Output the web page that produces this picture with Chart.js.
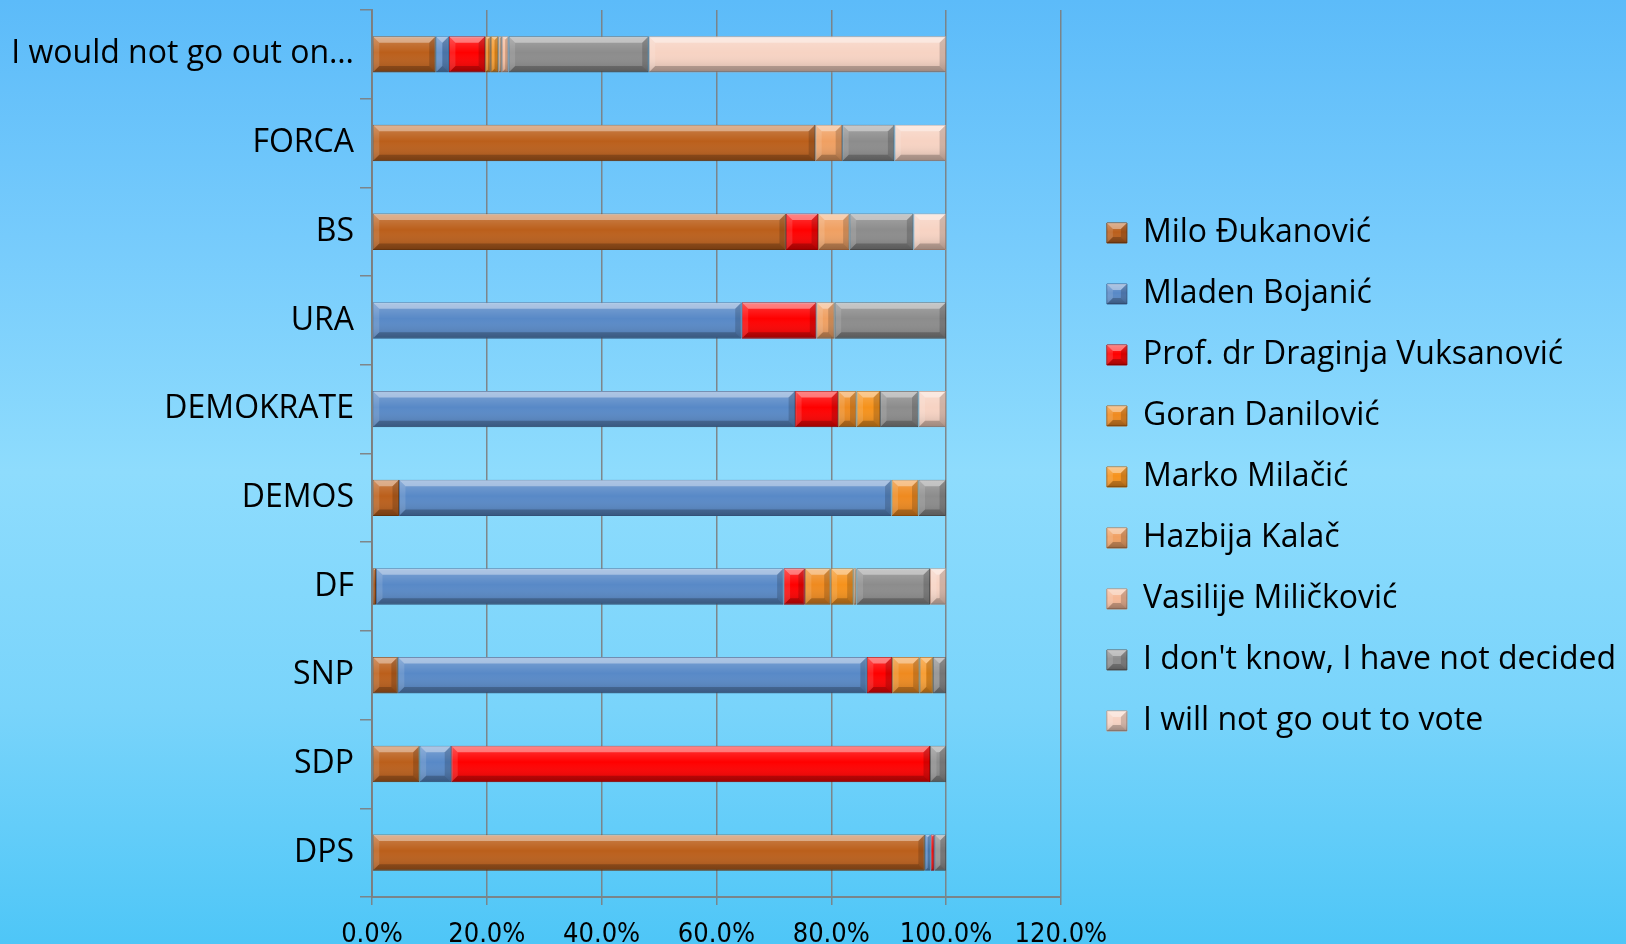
<!DOCTYPE html>
<html><head><meta charset="utf-8">
<script src="https://cdn.jsdelivr.net/npm/chart.js@4.4.1/dist/chart.umd.min.js"></script>
<style>
html,body{margin:0;padding:0;}
body{width:1626px;height:944px;overflow:hidden;background:linear-gradient(to bottom,#5cbbf9 0%,#76cbfc 25%,#8edcfd 50%,#79d4fb 75%,#4ec6f7 100%);}
#wrap{position:relative;width:1626px;height:944px;}
</style></head><body><div id="wrap"><canvas id="c"></canvas></div>
<script>
// Categories (top to bottom)
const categories = ["I would not go out on…","FORCA","BS","URA","DEMOKRATE","DEMOS","DF","SNP","SDP","DPS"];
// Series values (percent)
const miloDjukanovic      = [11.1, 77.2, 72.1, null, null, 4.7, 0.7, 4.5, 8.3, 96.3];
const mladenBojanic       = [2.3, null, null, 64.4, 73.7, 85.8, 71.0, 81.7, 5.5, 1.0];
const draginjaVuksanovic  = [6.3, null, 5.6, 13.0, 7.5, null, 3.7, 4.4, 83.4, 0.7];
const goranDanilovic      = [1.0, null, null, null, 3.2, 4.7, 4.5, 4.8, null, null];
const markoMilacic        = [1.3, null, null, null, 4.1, null, 4.0, 2.3, null, null];
const hazbijaKalac        = [0.6, 4.7, 5.5, 3.2, null, null, 0.5, null, null, null];
const vasilijeMilickovic  = [1.2, null, null, null, null, null, null, null, null, null];
const dontKnow            = [24.4, 9.1, 11.1, 19.4, 6.7, 4.8, 12.8, 2.3, 2.8, 2.0];
const notVote             = [51.8, 9.0, 5.7, null, 4.8, null, 2.8, null, null, null];
const seriesNames = ["Milo Đukanović","Mladen Bojanić","Prof. dr Draginja Vuksanović","Goran Danilović","Marko Milačić","Hazbija Kalač","Vasilije Miličković","I don't know, I have not decided","I will not go out to vote"];
const tickLabels = [0, 20, 40, 60, 80, 100, 120];

const seriesData = [miloDjukanovic, mladenBojanic, draginjaVuksanovic, goranDanilovic, markoMilacic, hazbijaKalac, vasilijeMilickovic, dontKnow, notVote];
const fills   = ['#bb5f1b','#5889c7','#ff0000','#ef8a1f','#f6921b','#f0a062','#f5b896','#8c8c8c','#f7d3c3'];
const borders = ['#7a3f12','#3f6596','#b00000','#a85d12','#b06510','#b06e40','#b88468','#5a5a5a','#b89484'];

Chart.defaults.font.family = "'Open Sans', sans-serif";
Chart.defaults.color = '#000';

const LEGEND_GAP = 17;

function bevel(ctx, l, t, w, h) {
  if (w < 1 || h < 1) return;
  const r = l + w, b = t + h;
  const e = Math.min(6, w / 2, h / 2);
  ctx.save();
  const g = ctx.createLinearGradient(0, t, 0, b);
  g.addColorStop(0, 'rgba(255,255,255,0.22)');
  g.addColorStop(0.45, 'rgba(255,255,255,0.0)');
  g.addColorStop(1, 'rgba(0,0,0,0.18)');
  ctx.fillStyle = g; ctx.fillRect(l, t, w, h);
  const poly = (pts, c) => { ctx.beginPath(); ctx.moveTo(pts[0][0], pts[0][1]); for (let i = 1; i < pts.length; i++) ctx.lineTo(pts[i][0], pts[i][1]); ctx.closePath(); ctx.fillStyle = c; ctx.fill(); };
  poly([[l,t],[r,t],[r-e,t+e],[l+e,t+e]], 'rgba(255,255,255,0.38)');
  poly([[l,b],[r,b],[r-e,b-e],[l+e,b-e]], 'rgba(0,0,0,0.22)');
  poly([[l,t],[l+e,t+e],[l+e,b-e],[l,b]], 'rgba(255,255,255,0.12)');
  poly([[r,t],[r-e,t+e],[r-e,b-e],[r,b]], 'rgba(0,0,0,0.16)');
  ctx.restore();
}

const bevelPlugin = {
  id: 'bevel',
  afterInit(chart) {
    // let the right-hand legend take its natural width, plus a gap to the plot
    const lg = chart.legend;
    if (lg && !lg._wide) {
      const orig = lg.update.bind(lg);
      lg.update = (maxWidth, maxHeight, margins) => {
        orig(Math.max(maxWidth, 640), maxHeight, margins);
        lg.width += LEGEND_GAP;
      };
      lg._wide = true;
    }
  },
  afterLayout(chart) {
    const lg = chart.legend;
    if (lg) { lg.left += LEGEND_GAP; }
  },
  afterDatasetsDraw(chart) {
    const ctx = chart.ctx;
    chart.data.datasets.forEach((ds, i) => {
      const meta = chart.getDatasetMeta(i);
      if (meta.hidden) return;
      meta.data.forEach(el => {
        const p = el.getProps(['x','y','base','height'], true);
        if (p.x == null || isNaN(p.x)) return;
        const l = Math.min(p.x, p.base), w = Math.abs(p.x - p.base);
        bevel(ctx, l + 0.5, p.y - p.height / 2 + 0.5, w - 1, p.height - 1);
      });
    });
  },
  afterDraw(chart) {
    const lg = chart.legend;
    if (!lg || !lg.legendHitBoxes) return;
    const ctx = chart.ctx;
    const fs = 32, bh = 20, bw = 20;
    lg.legendHitBoxes.forEach(hb => {
      const y = hb.top + Math.max((fs - bh) / 2, 0);
      bevel(ctx, hb.left, y, bw, bh);
    });
  }
};

new Chart(document.getElementById('c'), {
  type: 'bar',
  data: {
    labels: categories,
    datasets: seriesData.map((d, i) => ({
      label: seriesNames[i],
      data: d,
      backgroundColor: fills[i],
      borderColor: borders[i],
      borderWidth: 1,
      borderSkipped: false,
      barPercentage: 0.41,
      categoryPercentage: 1.0
    }))
  },
  options: {
    indexAxis: 'y',
    responsive: true,
    maintainAspectRatio: false,
    animation: false,
    layout: { padding: { top: 10, left: 0, right: 0, bottom: 0 } },
    plugins: {
      tooltip: { enabled: false },
      legend: {
        position: 'right',
        labels: {
          boxWidth: 20, boxHeight: 20, padding: 29,
          font: { size: 32, family: "'Open Sans', sans-serif" },
          color: '#000'
        }
      }
    },
    scales: {
      x: {
        stacked: true,
        min: 0, max: 120,
        afterBuildTicks(scale) { scale.ticks = tickLabels.map(v => ({ value: v })); },
        afterFit(scale) { scale.height = 47; },
        grid: { color: 'rgba(125,125,125,0.9)', lineWidth: 1.5, tickLength: 8, drawTicks: true },
        border: { color: 'rgba(125,125,125,0.9)', width: 2 },
        ticks: {
          padding: 16,
          maxRotation: 0,
          font: { size: 27, family: "'Liberation Sans Narrow', 'DejaVu Sans Condensed', sans-serif", lineHeight: 1.0 },
          color: '#000',
          callback: v => Number(v).toFixed(1) + '%'
        }
      },
      y: {
        stacked: true,
        afterFit(scale) { scale.width = 372; scale.paddingTop = 0; scale.paddingBottom = 0; },
        grid: { drawOnChartArea: false, drawTicks: true, tickLength: 12, color: 'rgba(125,125,125,0.9)', lineWidth: 1.5, offset: true },
        border: { color: 'rgba(125,125,125,0.9)', width: 2 },
        ticks: { padding: 6, font: { size: 32 }, color: '#000' }
      }
    }
  },
  plugins: [bevelPlugin]
});
</script>
</body></html>
